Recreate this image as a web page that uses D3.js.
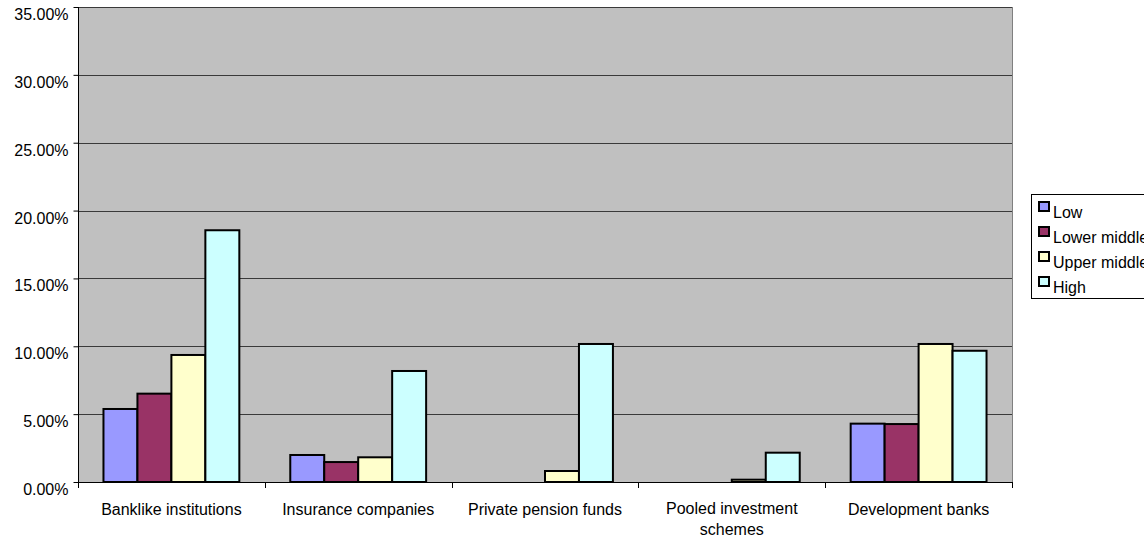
<!DOCTYPE html>
<html>
<head>
<meta charset="utf-8">
<script src="https://cdn.jsdelivr.net/npm/d3@7"></script>
<style>
  html, body { margin: 0; padding: 0; background: #ffffff; }
  svg { display: block; }
  text { font-family: "Liberation Sans", Arial, sans-serif; fill: #000; }
</style>
</head>
<body>
<svg id="chart" width="1144" height="541"></svg>
<script>
// ---- data (percent) ----
const categories = ["Banklike institutions", "Insurance companies", "Private pension funds", "Pooled investment schemes", "Development banks"];
const seriesNames = ["Low", "Lower middle", "Upper middle", "High"];
const lowValues         = [5.38, 1.99, 0, 0, 4.30];
const lowerMiddleValues = [6.51, 1.47, 0, 0, 4.27];
const upperMiddleValues = [9.36, 1.82, 0.81, 0.17, 10.17];
const highValues        = [18.55, 8.18, 10.17, 2.16, 9.67];
const yTicks = [0, 5, 10, 15, 20, 25, 30, 35];
const seriesColors = ["#9999FF", "#993366", "#FFFFCC", "#CCFFFF"];

(function () {
const seriesValues = [lowValues, lowerMiddleValues, upperMiddleValues, highValues];

const svg = d3.select("#chart");
const pLeft = 78, pRight = 1012, pTop = 7, pBottom = 482;

const y = d3.scaleLinear().domain([0, 35]).range([pBottom, pTop]);
const x0 = d3.scaleBand().domain(categories).range([pLeft, pRight]).padding(0);
const x1 = d3.scaleBand().domain(seriesNames).range([0, x0.bandwidth()]).paddingInner(0).paddingOuter(0.75);

// plot background
svg.append("rect").attr("x", pLeft).attr("y", pTop).attr("width", pRight - pLeft).attr("height", pBottom - pTop)
  .attr("fill", "#C0C0C0");

// gridlines
svg.append("g").selectAll("line").data(yTicks.filter(t => t > 0)).join("line")
  .attr("x1", pLeft).attr("x2", pRight)
  .attr("y1", d => Math.round(y(d)) + 0.5).attr("y2", d => Math.round(y(d)) + 0.5)
  .attr("stroke", "#3a3a3a").attr("stroke-width", 1);

// right border
svg.append("line").attr("x1", pRight + 0.5).attr("x2", pRight + 0.5).attr("y1", pTop).attr("y2", pBottom)
  .attr("stroke", "#808080").attr("stroke-width", 1);

// bars
const g = svg.append("g");
categories.forEach((c, ci) => {
  seriesNames.forEach((s, si) => {
    const v = seriesValues[si][ci];
    if (v <= 0) return;
    g.append("rect")
      .attr("x", x0(c) + x1(s))
      .attr("y", y(v))
      .attr("width", x1.bandwidth())
      .attr("height", y(0) - y(v))
      .attr("fill", seriesColors[si])
      .attr("stroke", "#000")
      .attr("stroke-width", 2);
  });
});

// y axis
const yAxis = d3.axisLeft(y).tickValues(yTicks).tickSize(5).tickPadding(5)
  .tickFormat(d => d.toFixed(2) + "%");
const ya = svg.append("g").attr("transform", `translate(${pLeft + 0.5},0)`).call(yAxis);
ya.select(".domain").attr("stroke", "#000").attr("d", `M0,${pTop}V${pBottom}`);
ya.selectAll(".tick line").attr("stroke", "#000");
ya.selectAll(".tick text").attr("dy", "0.78em").style("font-size", "16px")
  .style("font-family", '"Liberation Sans", Arial, sans-serif').attr("fill", "#000");

// x axis line
svg.append("line").attr("x1", pLeft).attr("x2", pRight + 1).attr("y1", pBottom + 0.5).attr("y2", pBottom + 0.5)
  .attr("stroke", "#000").attr("stroke-width", 1);
// x ticks at category boundaries
const boundaries = categories.map(c => x0(c)).concat([x0(categories[categories.length - 1]) + x0.bandwidth()]);
svg.append("g").selectAll("line").data(boundaries).join("line")
  .attr("x1", d => Math.round(d) + 0.5).attr("x2", d => Math.round(d) + 0.5)
  .attr("y1", pBottom).attr("y2", pBottom + 6)
  .attr("stroke", "#000");

// category labels (wrapped)
const labelG = svg.append("g");
categories.forEach(c => {
  const cx = x0(c) + x0.bandwidth() / 2;
  const t = labelG.append("text").attr("x", cx).attr("y", pBottom + 33)
    .attr("text-anchor", "middle").style("font-size", "16px");
  const words = c.split(" ");
  let line = [];
  let tspan = t.append("tspan").attr("x", cx).attr("dy", 0);
  let lineNo = 0;
  words.forEach(w => {
    line.push(w);
    tspan.text(line.join(" "));
    if (tspan.node().getComputedTextLength() > x0.bandwidth() - 6 && line.length > 1) {
      line.pop();
      tspan.text(line.join(" "));
      line = [w];
      lineNo++;
      tspan = t.append("tspan").attr("x", cx).attr("dy", "1.3em").text(w);
    }
  });
  if (lineNo > 0) t.attr("y", pBottom + 32);
});

// legend
const lg = svg.append("g");
lg.append("rect").attr("x", 1031.5).attr("y", 194.5).attr("width", 120).attr("height", 104)
  .attr("fill", "#fff").attr("stroke", "#000").attr("stroke-width", 1);
seriesNames.forEach((s, i) => {
  const yy = 202 + i * 25;
  lg.append("rect").attr("x", 1039).attr("y", yy).attr("width", 10).attr("height", 9)
    .attr("fill", seriesColors[i]).attr("stroke", "#000").attr("stroke-width", 2);
  lg.append("text").attr("x", 1053).attr("y", yy + 16).style("font-size", "16px").text(s);
});
})();
</script>
</body>
</html>
